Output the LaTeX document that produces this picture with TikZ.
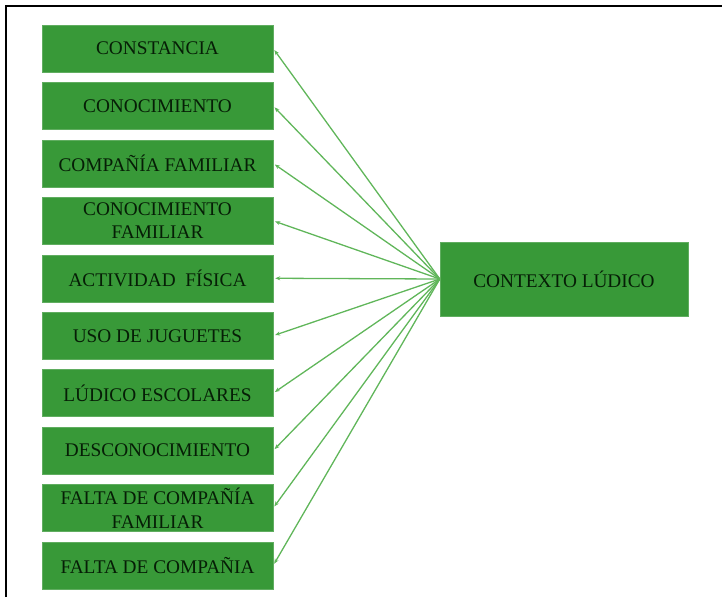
\documentclass[tikz,border=0pt]{standalone}
\usepackage{fontspec}
\setmainfont{Liberation Serif}
\usetikzlibrary{arrows.meta}

\definecolor{boxgreen}{RGB}{56,153,56}
\definecolor{linegreen}{RGB}{96,182,90}
\definecolor{textgreen}{RGB}{6,30,6}

\tikzset{
  factor/.style={fill=boxgreen, draw=boxgreen!80!white, minimum width=231pt, minimum height=47pt,
    align=center, text=textgreen, font=\fontsize{19.3}{23.5}\selectfont, inner sep=0pt},
  link/.style={draw=linegreen, line width=1.3pt, -{Stealth[length=5pt,width=4pt]}, shorten >=2pt}
}

\begin{document}
\begin{tikzpicture}[x=1pt,y=-1pt]
    \useasboundingbox (0,0) rectangle (722,597); % keeps the page the size of the picture
    \draw [line width=2pt] (6,597) -- (6,6) -- (722,6); % This draws the frame on the left and top

    \node [factor, minimum width=248pt, minimum height=74pt] (contexto) at (564,279) {CONTEXTO LÚDICO}; % This draws the main box

    \foreach \name/\label [count=\i from 0] in {constancia/CONSTANCIA, conocimiento/CONOCIMIENTO,
        compania/COMPAÑÍA FAMILIAR, conocfam/{CONOCIMIENTO\\FAMILIAR}, actividad/ACTIVIDAD~ FÍSICA,
        juguetes/USO DE JUGUETES, ludico/LÚDICO ESCOLARES, desconoc/DESCONOCIMIENTO,
        faltafam/{FALTA DE COMPAÑÍA\\FAMILIAR}, falta/FALTA DE COMPAÑIA} {
      \node [factor] (\name) at (157.5,48.5+57.44*\i) {\label}; % This draws one box on the left
      \draw [link] (contexto.west) -- (\name.east); % This draws the arrow to that box
    }
\end{tikzpicture}
\end{document}
